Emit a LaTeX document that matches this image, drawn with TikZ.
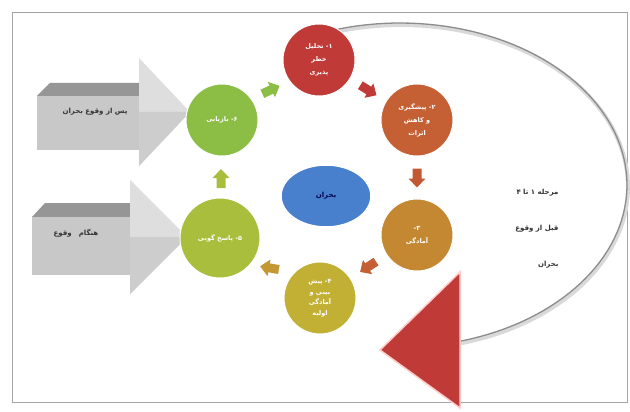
\documentclass[tikz,border=0pt]{standalone}
\usepackage{fontspec}
\usetikzlibrary{shapes.geometric,calc}
\newfontfamily\arabicfont[Script=Arabic]{DejaVu Sans}
\TeXXeTstate=1
\newcommand{\fa}[1]{{\arabicfont\beginR #1\endR}}
\definecolor{cRed}{RGB}{192,58,56}
\definecolor{cOrange}{RGB}{196,96,52}
\definecolor{cGold}{RGB}{196,136,50}
\definecolor{cYellow}{RGB}{194,176,52}
\definecolor{cLgreen}{RGB}{170,190,62}
\definecolor{cGreen}{RGB}{140,190,70}
\definecolor{cBlue}{RGB}{72,128,205}
\definecolor{cGrayF}{RGB}{200,200,200}
\definecolor{cGrayT}{RGB}{150,150,150}
\definecolor{cGrayH}{RGB}{222,222,222}
\definecolor{cGrayS}{RGB}{205,205,205}
\definecolor{cFrame}{RGB}{165,165,165}
\tikzset{
  phase/.style={circle, minimum size=72pt, inner sep=0pt, draw=white, line width=1pt,
    text=white, font=\fontsize{6.5}{13}\selectfont\bfseries, align=center},
  side text/.style={font=\fontsize{7}{8}\selectfont\bfseries, text=black!80},
  pics/smallarrow/.style={code={
    \fill[#1] (-9,-4.5) -- (1,-4.5) -- (1,-8.5) -- (10,0) -- (1,8.5) -- (1,4.5) -- (-9,4.5) -- cycle;}},
}
\begin{document}
\begin{tikzpicture}[x=1pt,y=-1pt]
\useasboundingbox (0,0) rectangle (630,412);
\fill[white] (0,0) rectangle (630,412);
\draw[cFrame, line width=0.8pt] (12,12) rectangle (627,402);

% big arc with shadow
\draw[black!15, line width=4pt] plot[domain=-110:92, samples=90] ({401+227*cos(\x)},{187+162*sin(\x)});
\draw[black!45, line width=1.3pt] plot[domain=-110:92, samples=90] ({400+227*cos(\x)},{185+162*sin(\x)});

% red triangle
\filldraw[fill=cRed, draw=red!20, line width=1.5pt] (380,350) -- (460,272) -- (460,408) -- cycle;

% gray block arrows
\fill[cGrayT] (37,96) -- (50,83) -- (145,83) -- (145,96) -- cycle;
\fill[cGrayF] (37,96) rectangle (145,150);
\fill[cGrayH] (139,58) -- (190,112) -- (139,166) -- cycle;
\fill[cGrayS] (139,112) -- (190,112) -- (139,166) -- cycle;
\node[side text] (after) at (95,112) {\fa{پس از وقوع بحران}};

\fill[cGrayT] (32,217) -- (45,203) -- (136,203) -- (136,217) -- cycle;
\fill[cGrayF] (32,217) rectangle (136,275);
\fill[cGrayH] (130,180) -- (187,237) -- (130,294) -- cycle;
\fill[cGrayS] (130,237) -- (187,237) -- (130,294) -- cycle;
\node[side text] (during) at (76,233) {\fa{هنگام\quad وقوع}};

% phase circles
\node[phase, fill=cRed] (p1) at (319,60) {\fa{۱- تحلیل}\\\fa{خطر}\\\fa{پذیری}};
\node[phase, fill=cOrange] (p2) at (417,120) {\fa{۲- پیشگیری}\\\fa{و کاهش}\\\fa{اثرات}};
\node[phase, fill=cGold] (p3) at (417,235) {\fa{۳-}\\\fa{آمادگی}};
\node[phase, fill=cYellow, font=\fontsize{6.5}{10.5}\selectfont\bfseries] (p4) at (320,298) {\fa{۴- پیش}\\\fa{بینی و}\\\fa{آمادگی}\\\fa{اولیه}};
\node[phase, fill=cLgreen, minimum size=80pt] (p5) at (220,238) {\fa{۵- پاسخ گویی}};
\node[phase, fill=cGreen] (p6) at (222,120) {\fa{۶- بازیابی}};

\node[ellipse, fill=cBlue, draw=white, line width=1.5pt, minimum width=90pt, minimum height=62pt,
  font=\fontsize{7}{8}\selectfont\bfseries, text=blue!30!black] (crisis) at (326,196) {\fa{بحران}};

% small arrows between phases
\pic[rotate=25] (a61) at ($(p6)!0.5!(p1)$) {smallarrow=cGreen};
\pic[rotate=-32] (a12) at ($(p1)!0.5!(p2)$) {smallarrow=cRed};
\pic[rotate=-90] (a23) at ($(p2)!0.5!(p3)$) {smallarrow=cOrange!80!cRed};
\pic[rotate=-147] (a34) at ($(p3)!0.5!(p4)$) {smallarrow=cOrange};
\pic[rotate=170] (a45) at ($(p4)!0.5!(p5)$) {smallarrow=cGold!60!cYellow};
\pic[rotate=90] (a56) at ($(p5)!0.5!(p6)$) {smallarrow=cLgreen};

% right text
\node[side text, font=\fontsize{7}{36}\selectfont\bfseries, align=right, anchor=east] (stage)
  at (562,229) {\fa{مرحله ۱ تا ۴}\\\fa{قبل از وقوع}\\\fa{بحران}};
\end{tikzpicture}
\end{document}
